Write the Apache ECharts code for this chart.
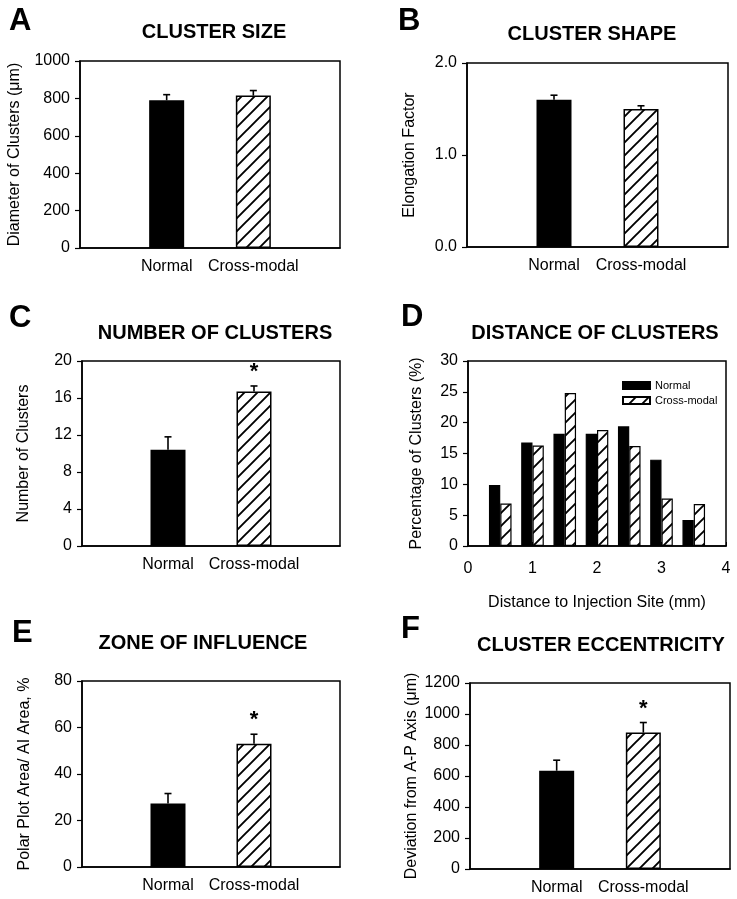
<!DOCTYPE html>
<html>
<head>
<meta charset="utf-8">
<script src="https://cdn.jsdelivr.net/npm/echarts@6/dist/echarts.min.js"></script>
<style>
html,body{margin:0;padding:0;background:#fff;}
#chart{width:737px;height:899px;}
</style>
</head>
<body>
<div id="chart"></div>
<script>
// ---------------- data ----------------
const groups = ['Normal', 'Cross-modal'];

const sizeMean = [790, 815];
const sizeErr = [30, 27];

const shapeMean = [1.60, 1.50];
const shapeErr = [0.05, 0.035];

const numberMean = [10.4, 16.7];
const numberErr = [1.4, 0.6];
const numberSig = [0, 1];

const zoneMean = [27.3, 53.0];
const zoneErr = [4.3, 4.1];
const zoneSig = [0, 1];

const eccMean = [634, 880];
const eccErr = [68, 65];
const eccSig = [0, 1];

const distanceTicks = ['0', '0.5', '1', '1.5', '2', '2.5', '3', '3.5', '4'];
const distNormal = [9.9, 16.8, 18.2, 18.2, 19.4, 14.0, 4.2];
const distCross = [6.9, 16.3, 24.8, 18.8, 16.2, 7.7, 6.8];

// ---------------- styling helpers ----------------
const FONT = "'Liberation Sans', Arial, Helvetica, sans-serif";

function hatch() {
  const s = 13;
  const c = document.createElement('canvas');
  c.width = s; c.height = s;
  const g = c.getContext('2d');
  g.fillStyle = '#fff';
  g.fillRect(0, 0, s, s);
  g.strokeStyle = '#000';
  g.lineWidth = 1.9;
  g.beginPath();
  g.moveTo(0, s); g.lineTo(s, 0);
  g.moveTo(-s / 2, s / 2); g.lineTo(s / 2, -s / 2);
  g.moveTo(s / 2, s * 1.5); g.lineTo(s * 1.5, s / 2);
  g.stroke();
  return { image: c, repeat: 'repeat' };
}
const HATCH = hatch();

const grids = [
  { left: 80, top: 61, width: 260, height: 187 },   // A
  { left: 467, top: 63, width: 261, height: 184 },  // B
  { left: 82, top: 361, width: 258, height: 185 },  // C
  { left: 468, top: 361, width: 258, height: 185 }, // D
  { left: 82, top: 681, width: 258, height: 186 },  // E
  { left: 470, top: 683, width: 260, height: 186 }  // F
].map(g => Object.assign({ show: true, borderColor: '#000', borderWidth: 1.5, backgroundColor: '#fff' }, g));

const catAxisData = [''].concat(groups).concat(['']);

function catXAxis(idx) {
  return {
    type: 'category', gridIndex: idx, data: catAxisData, boundaryGap: false,
    axisLine: { lineStyle: { color: '#000', width: 1.5 } },
    axisTick: { show: false },
    axisLabel: { color: '#000', fontSize: 16, fontFamily: FONT, margin: 11, interval: 0, hideOverlap: false },
    splitLine: { show: false }
  };
}
function valYAxis(idx, max, interval, name, gap, dec) {
  return {
    type: 'value', gridIndex: idx, min: 0, max: max, interval: interval,
    name: name, nameLocation: 'middle', nameGap: gap,
    nameTextStyle: { color: '#000', fontSize: 16, fontFamily: FONT },
    axisLine: { show: true, lineStyle: { color: '#000', width: 1.5 } },
    axisTick: { show: true, length: 5, lineStyle: { color: '#000', width: 1.2 } },
    axisLabel: { color: '#000', fontSize: 16, fontFamily: FONT, margin: 10,
      formatter: v => dec ? v.toFixed(dec) : String(v) },
    splitLine: { show: false }
  };
}

function barSeries(idx, means) {
  return {
    type: 'bar', xAxisIndex: idx, yAxisIndex: idx, barWidth: 35,
    data: [null].concat(means.map((m, i) => ({
      value: m,
      itemStyle: { color: i === 0 ? '#000' : HATCH, borderColor: '#000', borderWidth: 1.5 }
    }))).concat([null]),
    silent: true, animation: false
  };
}
function errSeries(idx, means, errs, sigs) {
  return {
    type: 'custom', xAxisIndex: idx, yAxisIndex: idx, silent: true, animation: false,
    data: means.map((m, i) => [i + 1, m, errs[i], sigs ? sigs[i] : 0]),
    renderItem: function (params, api) {
      const x = api.value(0), v = api.value(1), e = api.value(2), s = api.value(3);
      const p0 = api.coord([x, v]);
      const p1 = api.coord([x, v + e]);
      const children = [
        { type: 'line', shape: { x1: p0[0], y1: p0[1], x2: p1[0], y2: p1[1] }, style: { stroke: '#000', lineWidth: 1.6 } },
        { type: 'line', shape: { x1: p1[0] - 3.5, y1: p1[1], x2: p1[0] + 3.5, y2: p1[1] }, style: { stroke: '#000', lineWidth: 1.6 } }
      ];
      if (s) {
        children.push({ type: 'text', x: p1[0], y: p1[1] - 3,
          style: { text: '*', fill: '#000', fontSize: 22, fontFamily: FONT, fontWeight: 'bold', align: 'center', verticalAlign: 'bottom' } });
      }
      return { type: 'group', children: children };
    }
  };
}

// ---------------- axes ----------------
const xAxes = [catXAxis(0), catXAxis(1), catXAxis(2), {
  type: 'category', gridIndex: 3, data: distanceTicks, boundaryGap: false,
  name: 'Distance to Injection Site (mm)', nameLocation: 'middle', nameGap: 49,
  nameTextStyle: { color: '#000', fontSize: 16, fontFamily: FONT },
  axisLine: { lineStyle: { color: '#000', width: 1.5 } },
  axisTick: { show: true, inside: true, length: 4, interval: (i) => i % 2 === 0, lineStyle: { color: '#000' } },
  axisLabel: { color: '#000', fontSize: 16, fontFamily: FONT, margin: 15, interval: (i) => i % 2 === 0 },
  splitLine: { show: false }
}, catXAxis(4), catXAxis(5)];

const yAxes = [
  valYAxis(0, 1000, 200, 'Diameter of Clusters (\u03bcm)', 57),
  valYAxis(1, 2, 1, 'Elongation Factor', 49, 1),
  valYAxis(2, 20, 4, 'Number of Clusters', 50),
  valYAxis(3, 30, 5, 'Percentage of Clusters (%)', 43),
  valYAxis(4, 80, 20, 'Polar Plot Area/ AI Area, %', 49),
  valYAxis(5, 1200, 200, 'Deviation from A-P Axis (\u03bcm)', 50)
];

// ---------------- series ----------------
const series = [
  barSeries(0, sizeMean), errSeries(0, sizeMean, sizeErr),
  barSeries(1, shapeMean), errSeries(1, shapeMean, shapeErr),
  barSeries(2, numberMean), errSeries(2, numberMean, numberErr, numberSig),
  {
    name: 'Normal', type: 'bar', xAxisIndex: 3, yAxisIndex: 3, barWidth: 11.3, barGap: '0%',
    data: ['-'].concat(distNormal).concat(['-']),
    itemStyle: { color: '#000', borderColor: '#000', borderWidth: 1.2 }, animation: false, silent: true
  },
  {
    name: 'Cross-modal', type: 'bar', xAxisIndex: 3, yAxisIndex: 3, barWidth: 11.3, barGap: '0%',
    data: ['-'].concat(distCross).concat(['-']),
    itemStyle: { color: HATCH, borderColor: '#000', borderWidth: 1.2 }, animation: false, silent: true
  },
  barSeries(4, zoneMean), errSeries(4, zoneMean, zoneErr, zoneSig),
  barSeries(5, eccMean), errSeries(5, eccMean, eccErr, eccSig)
];

// ---------------- titles & letters ----------------
const titles = [
  ['CLUSTER SIZE', 214, 32], ['CLUSTER SHAPE', 592, 34], ['NUMBER OF CLUSTERS', 215, 333],
  ['DISTANCE OF CLUSTERS', 595, 333], ['ZONE OF INFLUENCE', 203, 643], ['CLUSTER ECCENTRICITY', 601, 645]
];
const letters = [['A', 9, 21], ['B', 398, 21], ['C', 9, 318], ['D', 401, 317], ['E', 12, 633], ['F', 401, 629]];

const graphics = [];
titles.forEach(t => graphics.push({ type: 'text', x: t[1], y: t[2], silent: true,
  style: { text: t[0], fill: '#000', fontSize: 20, fontWeight: 'bold', fontFamily: FONT, align: 'center', verticalAlign: 'middle' } }));
letters.forEach(t => graphics.push({ type: 'text', x: t[1], y: t[2], silent: true,
  style: { text: t[0], fill: '#000', fontSize: 31, fontWeight: 'bold', fontFamily: FONT, align: 'left', verticalAlign: 'middle' } }));

const chart = echarts.init(document.getElementById('chart'), null, { renderer: 'canvas' });
chart.setOption({
  backgroundColor: '#fff',
  animation: false,
  grid: grids,
  xAxis: xAxes,
  yAxis: yAxes,
  series: series,
  legend: {
    data: ['Normal', 'Cross-modal'], orient: 'vertical', left: 617, top: 374,
    itemWidth: 27, itemHeight: 7, itemGap: 2, icon: 'rect', selectedMode: false,
    textStyle: { color: '#000', fontSize: 11, fontFamily: FONT, lineHeight: 13 }
  },
  graphic: graphics
});
</script>
</body>
</html>
